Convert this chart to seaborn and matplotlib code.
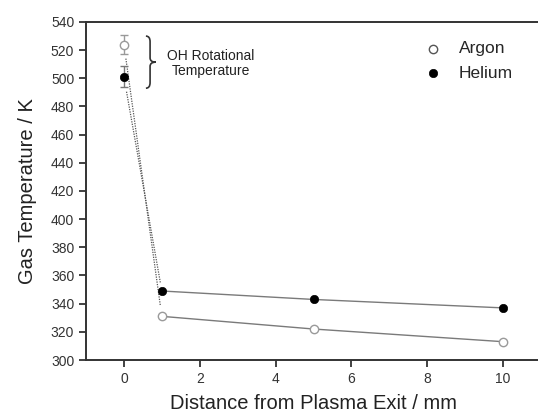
import numpy as np
import pandas as pd
import matplotlib
matplotlib.use("Agg")
import matplotlib.pyplot as plt
from matplotlib.path import Path
from matplotlib.patches import PathPatch
import seaborn as sns

# Data
distance = [0, 1, 5, 10]
argon_temp = [524, 331, 322, 313]
helium_temp = [501, 349, 343, 337]
# OH rotational temperature error (only at x = 0)
argon_err0 = 7
helium_err0 = 7.5

sns.set_style("ticks")
plt.rcParams["font.family"] = ["Liberation Sans", "DejaVu Sans"]

fig = plt.figure(figsize=(5.38, 4.19), dpi=100)
ax = fig.add_axes([86 / 538, 1 - 360 / 419, 455 / 538, (360 - 22) / 419])

df = pd.DataFrame({"distance": distance, "Argon": argon_temp, "Helium": helium_temp})
fit = df[df["distance"] >= 1]

line_col = "#7a7a7a"
sns.lineplot(data=fit, x="distance", y="Argon", color=line_col, lw=1.0, ax=ax)
sns.lineplot(data=fit, x="distance", y="Helium", color=line_col, lw=1.0, ax=ax)

# dotted segments from the OH points down to the first emission point
for temps, err in [(argon_temp, argon_err0), (helium_temp, helium_err0)]:
    t = (err + 3) / (temps[0] - temps[1])
    xs = [distance[0] + t * (distance[1] - distance[0]), distance[1] - 0.04]
    ys = [temps[0] - err - 3, temps[1] + 0.04 * (temps[0] - temps[1])]
    ax.plot(xs, ys, ls=(0, (1, 1)), color="#555555", lw=0.9)

# error bars at x = 0
ax.errorbar([distance[0]], [argon_temp[0]], yerr=[argon_err0], fmt="none",
            ecolor="#999999", elinewidth=1, capsize=3, capthick=1)
ax.errorbar([distance[0]], [helium_temp[0]], yerr=[helium_err0], fmt="none",
            ecolor="#777777", elinewidth=1, capsize=3, capthick=1)

sns.scatterplot(data=df, x="distance", y="Argon", marker="o", s=36,
                facecolor="white", edgecolor="#9a9a9a", linewidth=1.0,
                label="Argon", ax=ax, zorder=5)
sns.scatterplot(data=df, x="distance", y="Helium", marker="o", s=36,
                color="black", edgecolor="black", linewidth=0.5,
                label="Helium", ax=ax, zorder=5)

ax.set_xlim(-1, 11)
ax.set_ylim(300, 540)
ax.set_xticks([0, 2, 4, 6, 8, 10])
ax.set_yticks(np.arange(300, 541, 20))
ax.set_xlabel("Distance from Plasma Exit / mm", fontsize=14.5, color="#222222", labelpad=6)
ax.set_ylabel("Gas Temperature / K", fontsize=14.5, color="#222222", labelpad=10)
ax.tick_params(labelsize=10, length=5, width=1.3, colors="#333333", labelcolor="#333333")
for sp in ax.spines.values():
    sp.set_linewidth(1.4)
    sp.set_color("#333333")

leg = ax.legend(loc="upper left", bbox_to_anchor=(0.69, 0.99), frameon=False,
                fontsize=12.5, handletextpad=0.5, labelspacing=0.55, markerscale=1.0)
leg.legend_handles[0].set_edgecolor("#555555")

# curly brace + annotation
bx0, bx1, bx2 = 0.58, 0.69, 0.84
btop, bmid, bbot = 530, 511.5, 493
verts = [
    (bx0, btop), (bx1, btop), (bx1, btop - 4),
    (bx1, bmid + 3),
    (bx1, bmid), (bx2, bmid),
    (bx1, bmid), (bx1, bmid - 3),
    (bx1, bbot + 4),
    (bx1, bbot), (bx0, bbot),
]
codes = [Path.MOVETO, Path.CURVE3, Path.CURVE3, Path.LINETO,
         Path.CURVE3, Path.CURVE3, Path.CURVE3, Path.CURVE3,
         Path.LINETO, Path.CURVE3, Path.CURVE3]
ax.add_patch(PathPatch(Path(verts, codes), fill=False, lw=1.2, edgecolor="#333333"))
ax.text(2.3, 510.5, "OH Rotational\nTemperature", fontsize=10, color="#222222",
        ha="center", va="center", linespacing=1.1)

fig.savefig("out.png", dpi=100)
